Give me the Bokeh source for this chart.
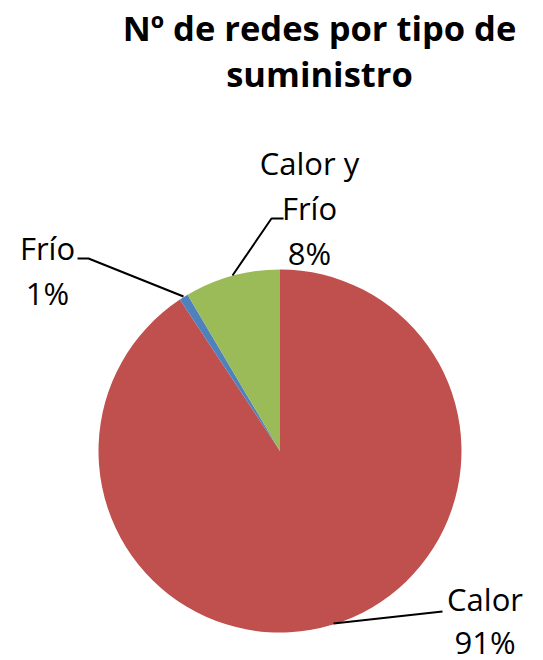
import numpy as np
from bokeh.plotting import figure
from bokeh.models import Range1d, ColumnDataSource
from bokeh.core.properties import value
from bokeh.embed import file_html
from bokeh.resources import INLINE

# ---- data ----
title_lines = ["Nº de redes por tipo de", "suministro"]
categories = ["Calor", "Frío", "Calor y Frío"]
shares = [90.7, 0.8, 8.5]          # percent of networks
pct_labels = ["91%", "1%", "8%"]
colors = ["#C0504D", "#4F81BD", "#9BBB59"]

# ---- layout (reference pixel coordinates, y measured downward) ----
W, H = 543, 660
cx, cy, R = 279.5, 450.5, 181.5
FONT = "Open Sans"

p = figure(width=W, height=H, x_range=Range1d(0, W), y_range=Range1d(-H, 0),
           output_backend="svg", toolbar_location=None, min_border=0,
           outline_line_color=None, background_fill_color="white")
p.axis.visible = False
p.grid.visible = False

# wedges, starting at 12 o'clock, clockwise
fr = np.array(shares) / np.sum(shares)
cum = np.concatenate([[0], np.cumsum(fr)])
start = np.pi / 2 - cum[:-1] * 2 * np.pi
end = np.pi / 2 - cum[1:] * 2 * np.pi
src = ColumnDataSource(dict(x=[cx] * 3, y=[-cy] * 3, start=start, end=end, color=colors))
p.wedge(x="x", y="y", radius=R, start_angle="start", end_angle="end", direction="clock",
        fill_color="color", line_color=None, source=src)

# title
p.text(x=[319, 319], y=[-27, -73], text=title_lines, text_align="center",
       text_baseline="alphabetic", text_font=value(FONT), text_font_style="bold",
       text_font_size="34.5px", text_color="black")

# data labels: category name lines + percentage
label_specs = [
    # (center x, first baseline y, line spacing, lines of the category name)
    (484.5, 598, 43, ["Calor"]),
    (47, 247, 45, ["Frío"]),
    (309, 162, 45, ["Calor y", "Frío"]),
]
lx, ly, lt = [], [], []
for (x0, y0, dy, lines), pct in zip(label_specs, pct_labels):
    for i, t in enumerate(lines + [pct]):
        lx.append(x0)
        ly.append(-(y0 + dy * i))
        lt.append(t)
p.text(x=lx, y=ly, text=lt, text_align="center", text_baseline="alphabetic",
       text_font=value(FONT), text_font_size="31px", text_color="black")

# leader lines
leaders = [
    ([442, 333], [611, 623]),
    ([77, 88, 183], [258, 258, 296]),
    ([283, 271, 232], [218, 218, 275]),
]
for xs, ys in leaders:
    p.line(xs, [-v for v in ys], line_color="black", line_width=2)

open("out.html", "w").write(file_html(p, INLINE))
